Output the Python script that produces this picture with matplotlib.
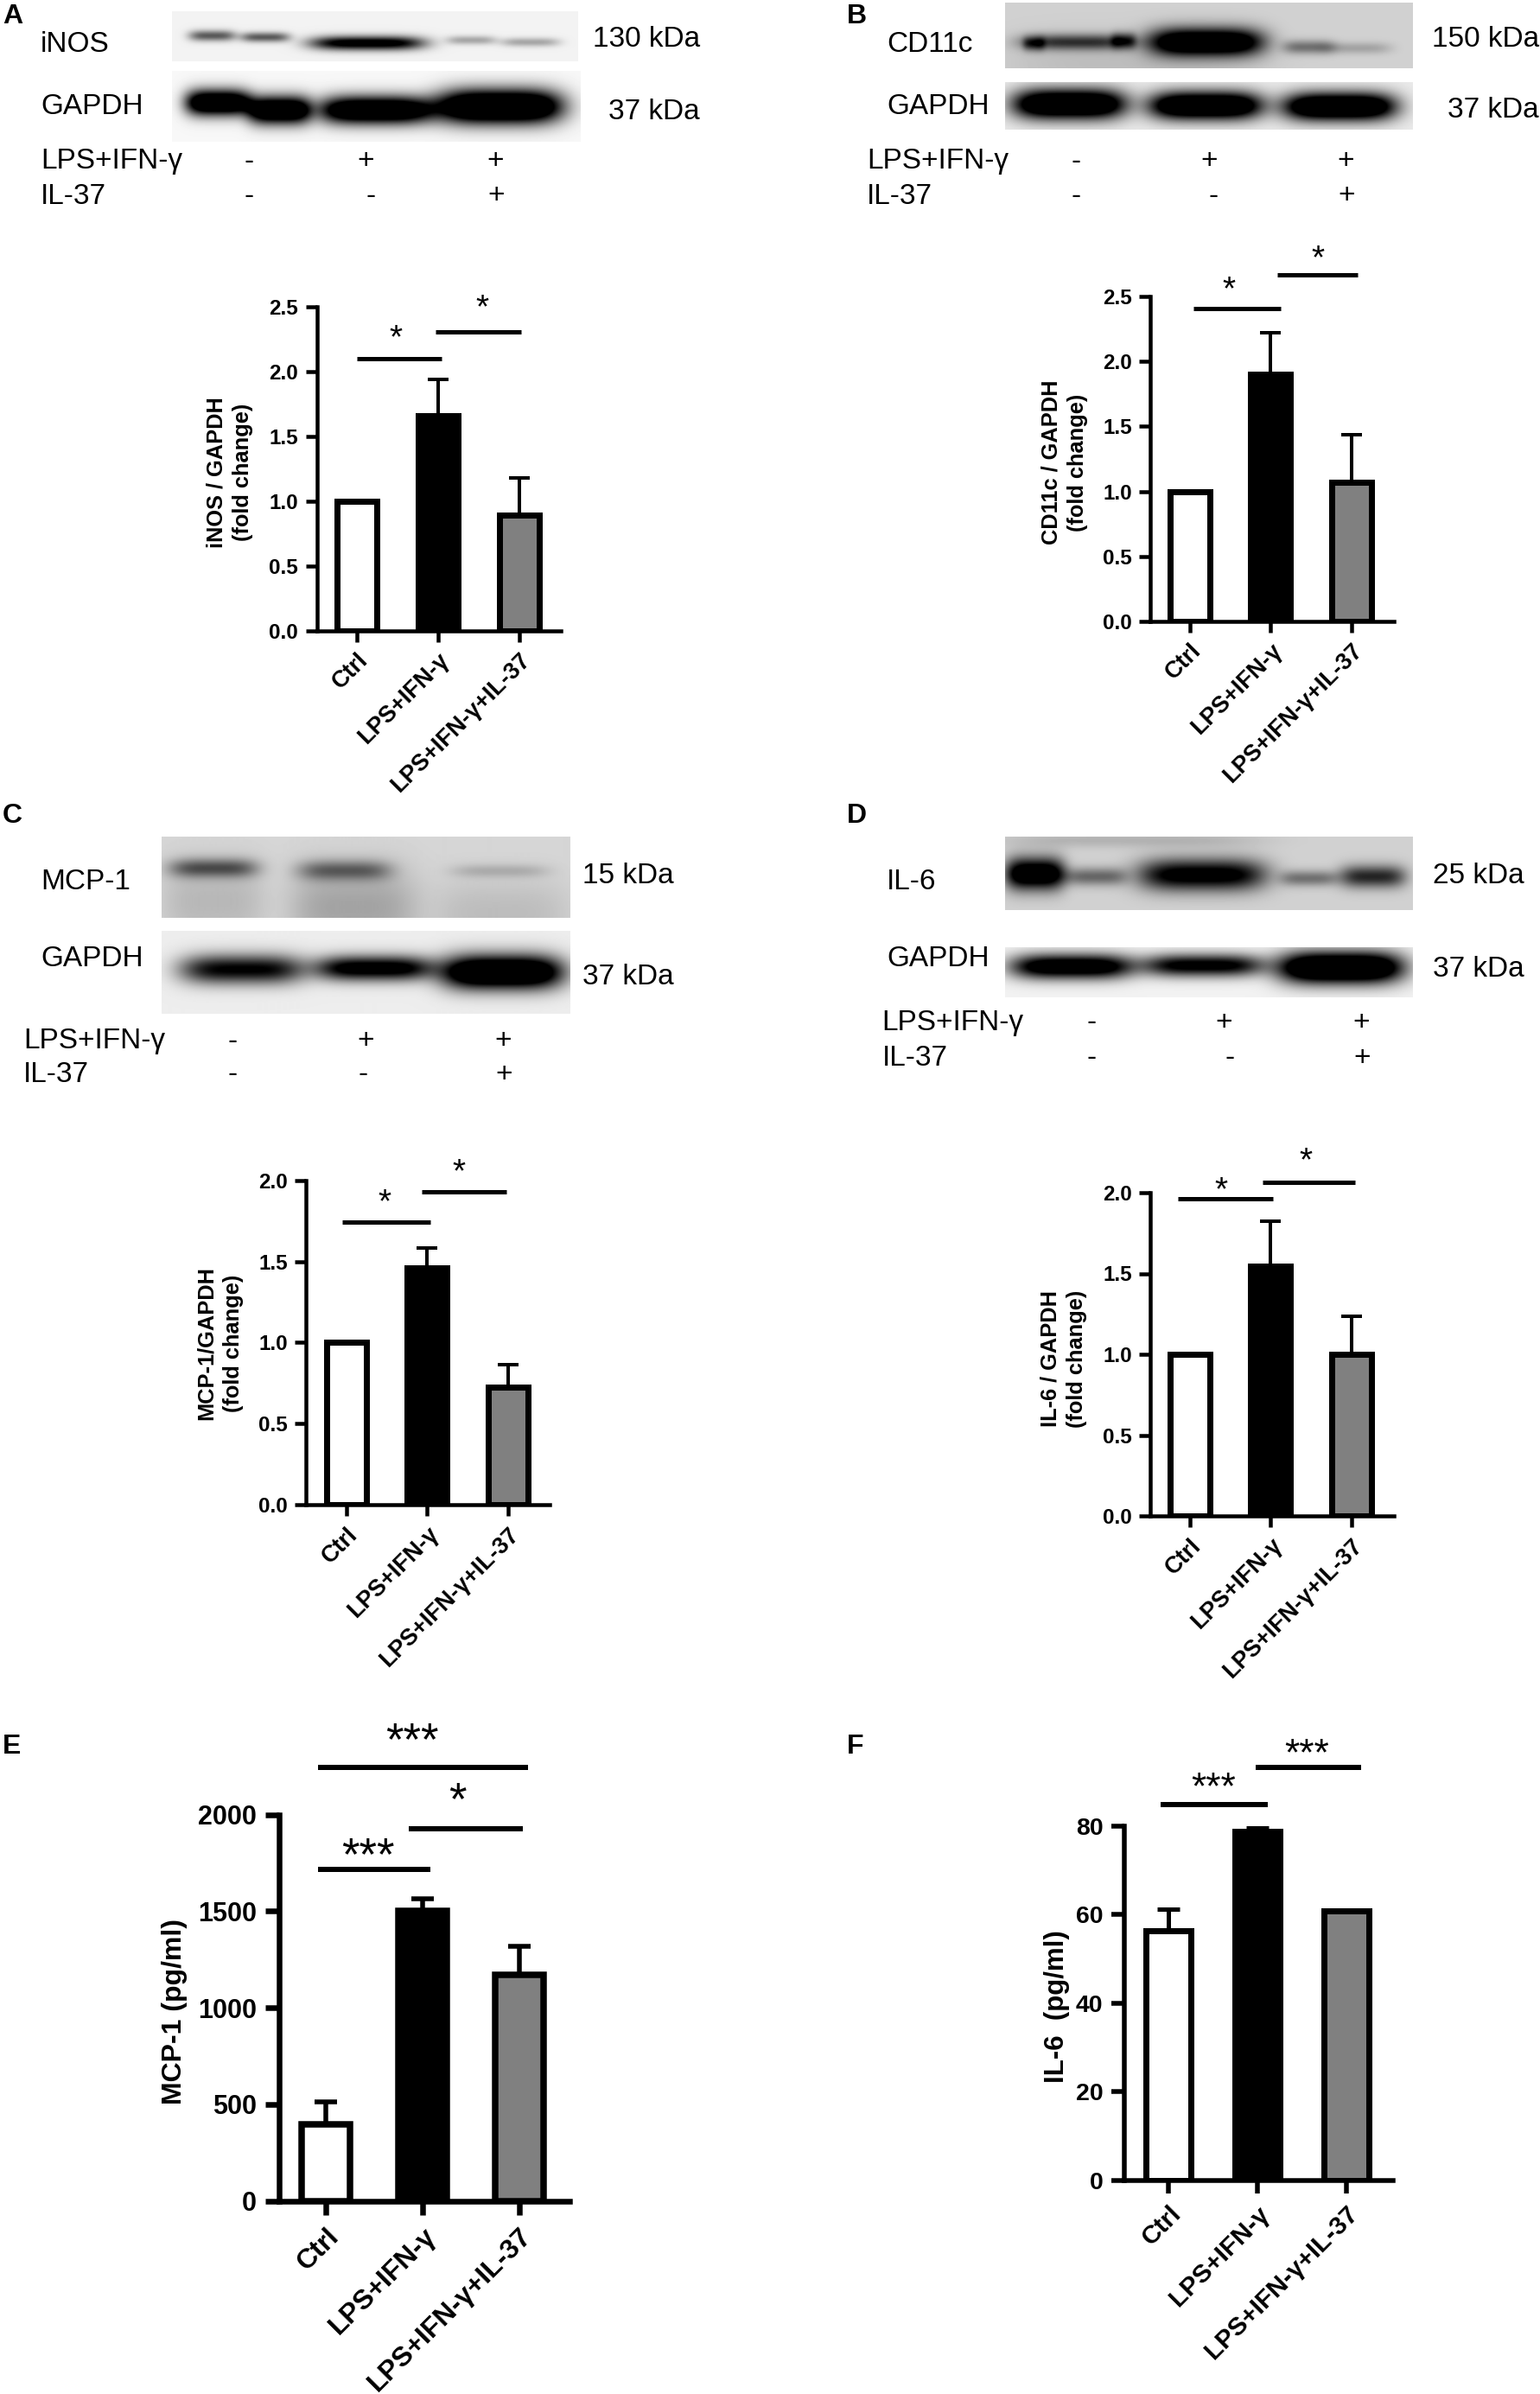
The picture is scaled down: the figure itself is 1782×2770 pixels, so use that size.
import numpy as np
from matplotlib import pyplot as plt

plt.rcParams['font.family'] = ['Liberation Sans', 'DejaVu Sans']

W, H = 1782, 2770
DPI = 100
PT = 72 / DPI  # points per pixel

groups = ['Ctrl', 'LPS+IFN-γ', 'LPS+IFN-γ+IL-37']
bar_colors = ['white', 'black', '#808080']

# values
inos_mean = [1.0, 1.66, 0.89]
inos_sem = [0, 0.28, 0.285]
cd11c_mean = [1.0, 1.905, 1.07]
cd11c_sem = [0, 0.32, 0.367]
mcp1_mean = [1.0, 1.46, 0.725]
mcp1_sem = [0, 0.124, 0.138]
il6_mean = [1.0, 1.545, 1.0]
il6_sem = [0, 0.28, 0.235]
mcp1_elisa_mean = [396, 1504, 1170]
mcp1_elisa_sem = [119, 61, 149]
il6_elisa_mean = [56.3, 78.8, 60.9]
il6_elisa_sem = [4.9, 1.0, 0]

ticks_fold_25 = [0.0, 0.5, 1.0, 1.5, 2.0, 2.5]
ticks_fold_20 = [0.0, 0.5, 1.0, 1.5, 2.0]
ticks_mcp1 = [0, 500, 1000, 1500, 2000]
ticks_il6 = [0, 20, 40, 60, 80]

# significance bars: from x, to x, height (data units)
sig_a = [(0, 1.04, 2.098), (0.975, 2.03, 2.305)]
sig_b = [(0.04, 1.13, 2.41), (1.08, 2.08, 2.668)]
sig_c = [(-0.05, 1.04, 1.74), (0.93, 1.98, 1.93)]
sig_d = [(-0.15, 1.03, 1.96), (0.90, 2.05, 2.063)]
sig_e = [(-0.08, 2.09, 2246), (0.86, 2.04, 1927), (-0.08, 1.08, 1715)]
sig_f = [(-0.095, 1.12, 84.9), (0.98, 2.17, 93.2)]

# stars: text, centre in figure pixels
stars_a = [('*', 458, 380), ('*', 558, 345)]
stars_b = [('*', 1422, 324), ('*', 1525, 288)]
stars_c = [('*', 445, 1380), ('*', 531, 1345)]
stars_d = [('*', 1413, 1366), ('*', 1511, 1332)]
stars_e = [('***', 477, 2000), ('*', 529, 2069), ('***', 426, 2133)]
stars_f = [('***', 1404, 2056), ('***', 1512, 2017)]

fig = plt.figure(figsize=(W / DPI, H / DPI), dpi=DPI, facecolor='white')


def put(x, y, s, size, ha='left', va='center', weight='normal', **kw):
    # va=center takes the descent into account, so the ink sits a bit high
    return fig.text(x / W, 1 - (y + 3) / H, s, fontsize=size, ha=ha, va=va, weight=weight, **kw)


def star(x, y, s, size):
    # asterisk ink sits high above the baseline, so place by baseline
    base = y + 0.575 * size / PT
    fig.text(x / W, 1 - base / H, s, fontsize=size, ha='center', va='baseline')


def bar_panel(box, ticks_x, mean, sem, yticks, sig, stars, ylabel, ylab_xy, st):
    left, right, y0, ytop = box
    ax = fig.add_axes([left / W, 1 - y0 / H, (right - left) / W, (y0 - ytop) / H])
    step = (ticks_x[2] - ticks_x[0]) / 2
    ax.set_xlim((left - ticks_x[0]) / step, (right - ticks_x[0]) / step)
    ax.set_ylim(yticks[0], yticks[-1])
    ax.patch.set_alpha(0)
    xs = np.arange(len(groups))
    ax.bar(xs, mean, width=st['bar_w'] / step, color=bar_colors, edgecolor='black',
           linewidth=st['edge'] * PT, zorder=3)
    ax.errorbar(xs, mean, yerr=[np.zeros(3), sem], fmt='none', ecolor='black',
                elinewidth=st['err'] * PT, capsize=st['cap'] * PT,
                capthick=st['err'] * PT, zorder=2)
    for s in ['top', 'right']:
        ax.spines[s].set_visible(False)
    for s in ['left', 'bottom']:
        ax.spines[s].set_linewidth(st['axis'] * PT)
        ax.spines[s].set_zorder(5)
    ax.set_yticks(yticks)
    ax.set_yticklabels([st['fmt'].format(t) for t in yticks], fontsize=st['tick_fs'], weight='bold')
    ax.set_xticks(xs)
    ax.set_xticklabels(groups, fontsize=st['x_fs'], weight='bold', rotation=45, ha='right',
                       rotation_mode='anchor')
    ax.tick_params(axis='both', width=st['axis'] * PT, length=st['tick'] * PT, pad=st['pad'])
    for x1, x2, y in sig:
        ax.plot([x1, x2], [y, y], color='black', lw=st['sig'] * PT, clip_on=False,
                solid_capstyle='butt')
    for txt, x, y in stars:
        star(x, y, txt, st['star_fs'])
    put(ylab_xy[0], ylab_xy[1], ylabel, st['y_fs'], ha='center', weight='bold', rotation=90,
        linespacing=1.35, multialignment='center')
    return ax


def blot(rect, bg, bands):
    # rect = x0, x1, y0, y1 in pixels. bands = x0, x1, yc, half height, darkness
    x0, x1, y0, y1 = rect
    ax = fig.add_axes([x0 / W, 1 - y1 / H, (x1 - x0) / W, (y1 - y0) / H])
    xx, yy = np.meshgrid(np.arange(x0, x1) + 0.5, np.arange(y0, y1) + 0.5)
    img = np.full(xx.shape, float(bg))
    for bx0, bx1, yc, hh, dark in bands:
        cx = (bx0 + bx1) / 2
        sx = (bx1 - bx0) / 2
        img -= dark * np.exp(-((xx - cx) / sx) ** 4) * np.exp(-((yy - yc) / hh) ** 2)
    ax.imshow(np.clip(img, 0, 1), cmap='gray', vmin=0, vmax=1, aspect='auto', interpolation='bilinear')
    ax.axis('off')


def scale_bands(bands, ox, oy, zy):
    return [((a / 1.76 + ox), (b / 1.76 + ox), c / zy + oy, d / zy, e) for a, b, c, d, e in bands]


def blot_text(name, name_xy, gapdh_xy, kda, kda_xy, gapdh_kda_xy, lps_xy, il_xy, signs1, signs2):
    fs = 24
    put(name_xy[0], name_xy[1], name, fs)
    put(gapdh_xy[0], gapdh_xy[1], 'GAPDH', fs)
    put(kda_xy[0], kda_xy[1], kda, fs, ha='right')
    put(gapdh_kda_xy[0], gapdh_kda_xy[1], '37 kDa', fs, ha='right')
    put(lps_xy[0], lps_xy[1], 'LPS+IFN-γ', fs)
    put(il_xy[0], il_xy[1], 'IL-37', fs)
    for (x, s) in zip(signs1, '-++'):
        put(x, lps_xy[1], s, fs, ha='center')
    for (x, s) in zip(signs2, '--+'):
        put(x, il_xy[1], s, fs, ha='center')


# panel A
blot((199, 669, 13, 71), 0.95, scale_bands(
    [(385, 480, 72, 11, 0.6), (490, 590, 75, 10, 0.6), (632, 865, 87, 14, 1.1), (910, 1010, 81, 9, 0.3),
     (1020, 1140, 85, 9, 0.3)], 0, 0, 1.742))
blot((199, 672, 82, 164), 0.97, scale_bands(
    [(378, 510, 207, 26, 1.5), (505, 632, 222, 28, 1.5), (648, 882, 222, 28, 1.5),
     (890, 1145, 215, 34, 1.7)], 0, 0, 1.742))
blot_text('iNOS', (47, 49), (47, 120.6), '130 kDa', (810, 43), (810, 126), (47, 184), (47, 224),
          [288, 423, 573], [288, 429, 574])

# panel B
blot((1163, 1635, 3, 79), 0.82, scale_bands(
    [(510, 740, 85, 16, 0.6), (515, 560, 88, 14, 0.4), (695, 745, 82, 16, 0.45), (772, 1005, 85, 28, 1.25),
     (1045, 1150, 95, 14, 0.38), (1130, 1265, 97, 12, 0.18), (479, 1000, 130, 60, 0.08)], 891, 0, 1.742))
blot((1163, 1635, 95, 150), 0.92, scale_bands(
    [(495, 725, 210, 30, 1.5), (772, 1003, 213, 28, 1.5), (1045, 1275, 215, 28, 1.5)], 891, 0, 1.742))
blot_text('CD11c', (1026, 49), (1026, 120.6), '150 kDa', (1781, 43), (1781, 125), (1003, 184), (1003, 224),
          [1245.5, 1399.5, 1557.5], [1245.5, 1404.5, 1558])

# panel C
blot((187, 659, 968, 1062), 0.84, scale_bands(
    [(345, 525, 130, 17, 0.5), (607, 795, 134, 18, 0.42), (920, 1115, 135, 12, 0.15),
     (329, 540, 190, 70, 0.12), (590, 850, 200, 70, 0.2), (880, 1160, 210, 60, 0.1)], 0, 920, 1.537))
blot((187, 659, 1077, 1173), 0.93, scale_bands(
    [(367, 620, 310, 26, 0.95), (643, 880, 308, 22, 1.1), (898, 1145, 315, 30, 1.5)], 0, 920, 1.537))
blot_text('MCP-1', (47, 1017.6), (47, 1107), '15 kDa', (780, 1010), (780, 1127.5), (27, 1202), (27, 1241),
          [269, 423, 582], [269, 420, 583.5])

# panel D
blot((1163, 1635, 968, 1053), 0.82, scale_bands(
    [(480, 600, 140, 28, 1.15), (600, 725, 145, 16, 0.42), (750, 1010, 142, 28, 0.95),
     (1040, 1155, 148, 14, 0.38), (1160, 1295, 145, 20, 0.68), (479, 1000, 80, 14, 0.12)], 891, 920, 1.537))
blot((1163, 1635, 1096, 1154), 0.95, scale_bands(
    [(490, 740, 305, 22, 1.25), (760, 1005, 303, 20, 1.05), (1035, 1290, 307, 28, 1.6)], 891, 920, 1.537))
blot_text('IL-6', (1026, 1017.6), (1026, 1107), '25 kDa', (1764, 1010), (1764, 1118), (1020.5, 1180), (1020.5, 1221),
          [1262.6, 1416.6, 1575], [1262.6, 1423, 1576])

small = dict(bar_w=46, edge=7, err=4, cap=12, axis=4.5, tick=13, tick_fs=17.5, x_fs=19.5, y_fs=18.3,
             pad=6, sig=5, star_fs=28, fmt='{:.1f}')
big_e = dict(bar_w=56, edge=7.5, err=5.5, cap=13.5, axis=6.5, tick=16, tick_fs=22, x_fs=23, y_fs=23,
             pad=7, sig=6, star_fs=38, fmt='{:d}')
big_f = dict(bar_w=52, edge=7, err=5, cap=13, axis=5.5, tick=15, tick_fs=20.5, x_fs=21.5, y_fs=22.5,
             pad=7, sig=6, star_fs=32, fmt='{:d}')

bar_panel((366.5, 649.4, 729.6, 354.8), [413, 507, 600.6], inos_mean, inos_sem, ticks_fold_25, sig_a, stars_a,
          'iNOS / GAPDH\n(fold change)', (266, 543.5), small)
bar_panel((1331.3, 1612.6, 718.7, 343.3), [1376.8, 1470, 1563.7], cd11c_mean, cd11c_sem, ticks_fold_25, sig_b, stars_b,
          'CD11c / GAPDH\n(fold change)', (1232, 532), small)
bar_panel((354, 636, 1741, 1365.7), [400.6, 494.3, 587.5], mcp1_mean, mcp1_sem, ticks_fold_20, sig_c, stars_c,
          'MCP-1/GAPDH\n(fold change)', (254.5, 1551), small)
bar_panel((1331, 1613, 1754, 1380), [1376.8, 1470, 1563.7], il6_mean, il6_sem, ticks_fold_20, sig_d, stars_d,
          'IL-6 / GAPDH\n(fold change)', (1231, 1569), small)
bar_panel((322.7, 659, 2546.8, 2099.6), [377.3, 489.8, 600.6], mcp1_elisa_mean, mcp1_elisa_sem, ticks_mcp1, sig_e, stars_e,
          'MCP-1 (pg/ml)', (202, 2324.6), big_e)
bar_panel((1301, 1611.5, 2522.7, 2112.7), [1352.4, 1455.2, 1557.5], il6_elisa_mean, il6_elisa_sem, ticks_il6, sig_f, stars_f,
          'IL-6  (pg/ml)', (1223, 2319), big_f)

for letter, x, y in [('A', 3, 16), ('B', 980, 16), ('C', 3, 941), ('D', 980, 941), ('E', 3, 2018), ('F', 980, 2018)]:
    put(x, y, letter, 23, weight='bold')

fig.savefig('out.png', dpi=DPI)
